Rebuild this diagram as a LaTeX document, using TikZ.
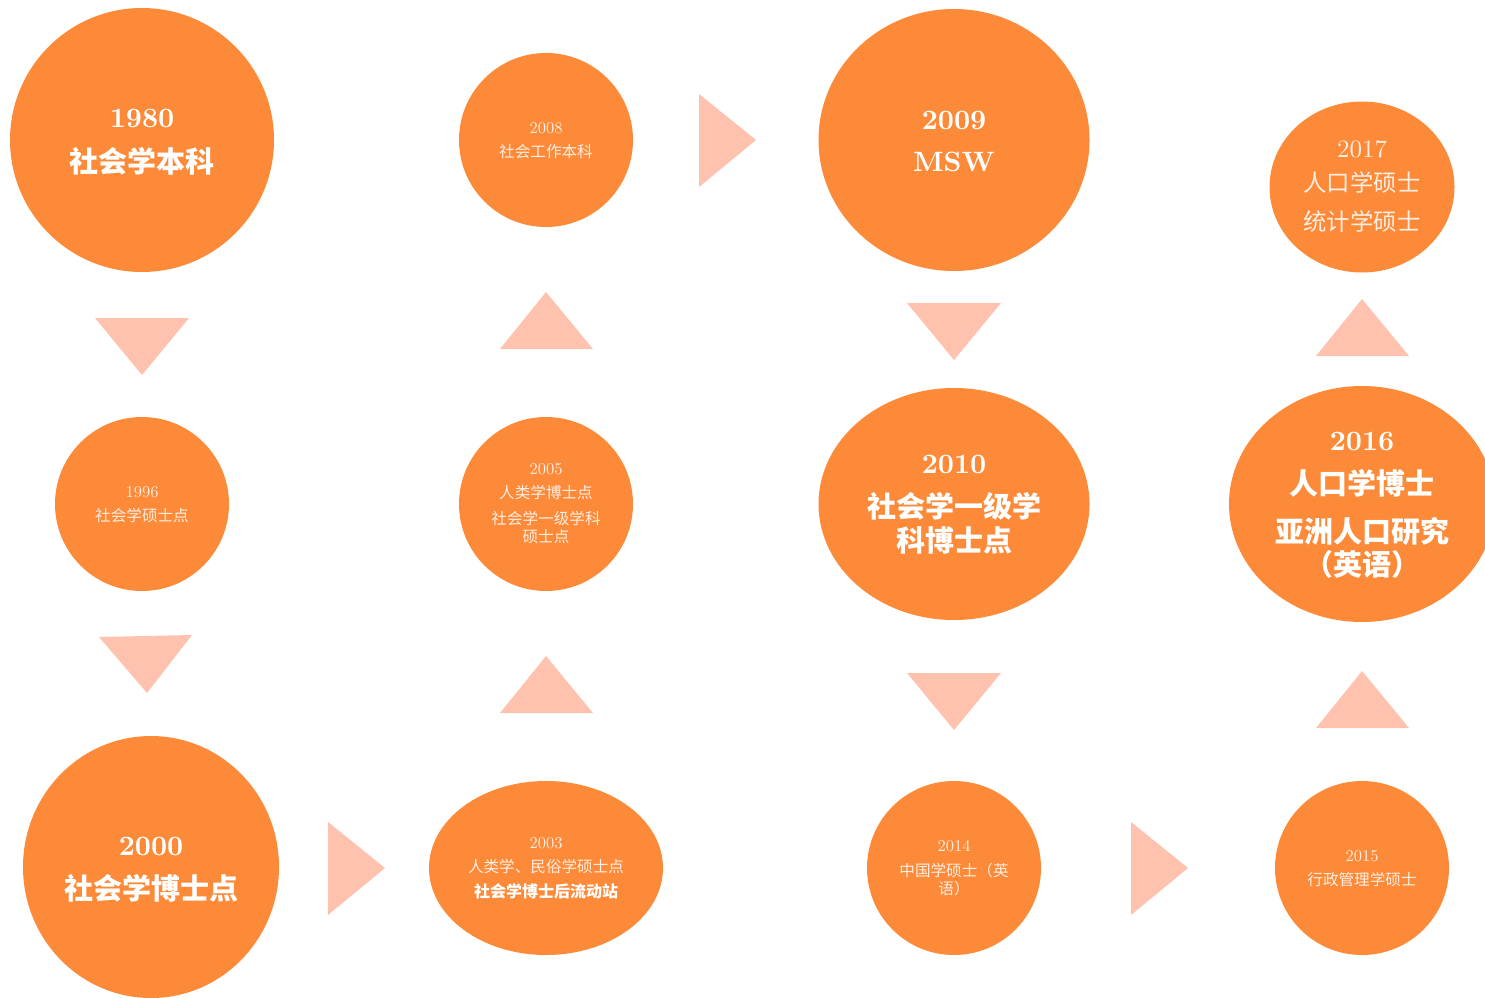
\documentclass[tikz,border=0pt]{standalone}
\usepackage{fontspec}
\newfontfamily\cjk{Noto Sans CJK SC}
\newfontfamily\numbold[Extension=.otf]{lmroman10-bold}
\newfontfamily\numreg[Extension=.otf]{lmroman10-regular}
\usetikzlibrary{shapes.geometric}
\definecolor{orng}{RGB}{253,138,56}
\definecolor{trifill}{RGB}{255,194,174}
\definecolor{lighttxt}{RGB}{255,238,226}
\newcommand\mytext[5]{\node[txt,#4] (#1) at (#2,#3) {#5};}
\tikzset{
  blob/.style={shape=ellipse, fill=orng, draw=none, inner sep=0pt},
  txt/.style={anchor=base, inner sep=0pt},
  bignum/.style={text=white, font=\numbold\fontsize{28}{28}\selectfont},
  bigcjk/.style={text=white, font=\cjk\fontsize{29}{29}\selectfont\bfseries},
  smallnum/.style={text=lighttxt, font=\numreg\fontsize{16.5}{16.5}\selectfont},
  smallcjk/.style={text=lighttxt, font=\cjk\fontsize{15.6}{15.6}\selectfont},
  midnum/.style={text=lighttxt, font=\numreg\fontsize{25}{25}\selectfont},
  midcjk/.style={text=lighttxt, font=\cjk\fontsize{23.4}{23.4}\selectfont},
  boldsmall/.style={text=white, font=\cjk\fontsize{16}{16}\selectfont\bfseries},
  arrowtri/.style={fill=trifill, draw=none}
}
\begin{document}
\begin{tikzpicture}[x=1pt,y=-1pt]
\useasboundingbox (0,0) rectangle (1485,998);
\clip (0,0) rectangle (1485,998);
% ellipses
\node[blob, minimum width=264pt, minimum height=264pt] (e1980) at (142,140) {};
\node[blob, minimum width=174pt, minimum height=174pt] (e2008) at (546,140) {};
\node[blob, minimum width=271pt, minimum height=262pt] (e2009) at (954,140) {};
\node[blob, minimum width=185pt, minimum height=171pt] (e2017) at (1362,187) {};
\node[blob, minimum width=174pt, minimum height=174pt] (e1996) at (142,504) {};
\node[blob, minimum width=174pt, minimum height=174pt] (e2005) at (546,504) {};
\node[blob, minimum width=271pt, minimum height=232pt] (e2010) at (954,504) {};
\node[blob, minimum width=266pt, minimum height=236pt] (e2016) at (1362,504) {};
\node[blob, minimum width=256pt, minimum height=262pt] (e2000) at (151,867) {};
\node[blob, minimum width=234pt, minimum height=174pt] (e2003) at (546,868) {};
\node[blob, minimum width=174pt, minimum height=174pt] (e2014) at (954,868) {};
\node[blob, minimum width=174pt, minimum height=174pt] (e2015) at (1362,868) {};
% triangles
\fill[arrowtri] (95,318) -- (189,318) -- (142,375) -- cycle;
\fill[arrowtri] (99,637) -- (192,635) -- (147,693) -- cycle;
\fill[arrowtri] (500,349) -- (593,349) -- (546,292) -- cycle;
\fill[arrowtri] (500,713) -- (593,713) -- (546,656) -- cycle;
\fill[arrowtri] (699,94) -- (699,187) -- (756,140) -- cycle;
\fill[arrowtri] (328,822) -- (328,915) -- (385,868) -- cycle;
\fill[arrowtri] (907,303) -- (1001,303) -- (954,360) -- cycle;
\fill[arrowtri] (907,673) -- (1001,673) -- (954,730) -- cycle;
\fill[arrowtri] (1316,356) -- (1409,356) -- (1362,299) -- cycle;
\fill[arrowtri] (1316,728) -- (1409,728) -- (1362,671) -- cycle;
\fill[arrowtri] (1131,822) -- (1131,915) -- (1188,868) -- cycle;
% texts
\mytext{t1980a}{142}{127}{bignum}{1980}
\mytext{t1980b}{142}{172}{bigcjk}{社会学本科}
\mytext{t2008a}{546}{133}{smallnum}{2008}
\mytext{t2008b}{546}{157}{smallcjk}{社会工作本科}
\mytext{t2009a}{954}{129}{bignum}{2009}
\mytext{t2009b}{954}{171}{bignum}{MSW}
\mytext{t2017a}{1362}{157}{midnum}{2017}
\mytext{t2017b}{1362}{191}{midcjk}{人口学硕士}
\mytext{t2017c}{1362}{230}{midcjk}{统计学硕士}
\mytext{t1996a}{142}{497}{smallnum}{1996}
\mytext{t1996b}{142}{521}{smallcjk}{社会学硕士点}
\mytext{t2005a}{546}{474}{smallnum}{2005}
\mytext{t2005b}{546}{498}{smallcjk}{人类学博士点}
\mytext{t2005c}{546}{524}{smallcjk}{社会学一级学科}
\mytext{t2005d}{546}{542}{smallcjk}{硕士点}
\mytext{t2010a}{954}{473}{bignum}{2010}
\mytext{t2010b}{954}{517}{bigcjk}{社会学一级学}
\mytext{t2010c}{954}{551}{bigcjk}{科博士点}
\mytext{t2016a}{1362}{450}{bignum}{2016}
\mytext{t2016b}{1362}{494}{bigcjk}{人口学博士}
\mytext{t2016c}{1362}{542}{bigcjk}{亚洲人口研究}
\mytext{t2016d}{1362}{575}{bigcjk}{（英语）}
\mytext{t2000a}{151}{855}{bignum}{2000}
\mytext{t2000b}{151}{899}{bigcjk}{社会学博士点}
\mytext{t2003a}{546}{848}{smallnum}{2003}
\mytext{t2003b}{546}{872}{smallcjk}{人类学、民俗学硕士点}
\mytext{t2003c}{546}{897}{boldsmall}{社会学博士后流动站}
\mytext{t2014a}{954}{851}{smallnum}{2014}
\mytext{t2014b}{954}{876}{smallcjk}{中国学硕士（英}
\mytext{t2014c}{954}{894}{smallcjk}{语）}
\mytext{t2015a}{1362}{861}{smallnum}{2015}
\mytext{t2015b}{1362}{885}{smallcjk}{行政管理学硕士}
\end{tikzpicture}
\end{document}
